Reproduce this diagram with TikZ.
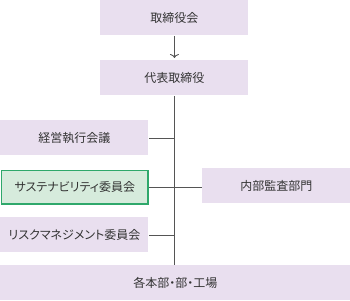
\documentclass[tikz,border=0pt]{standalone}
\usepackage{fontspec}
\newfontfamily\jp[RawFeature=+palt]{Noto Sans CJK JP}
\usepackage{tikz}
\usetikzlibrary{arrows.meta}
\definecolor{lav}{HTML}{E9DFEF}
\definecolor{sus}{HTML}{D6EBDC}
\definecolor{susedge}{HTML}{2FA86B}
\definecolor{ink}{HTML}{333333}
\definecolor{wire}{HTML}{555555}
\tikzset{org/.style={x=1pt,y=-1pt,line width=.9pt,font=\jp\fontsize{12}{14}\selectfont},
  box/.style={fill=lav,text=ink,anchor=north west,inner sep=0pt,minimum height=35pt},
  greenbox/.style={box,fill=sus,draw=susedge,line width=1.6pt}}

\begin{document}
\begin{tikzpicture}[org]
  \useasboundingbox (0,0) rectangle (350,300);
  \node[box,minimum width=148pt] (board) at (100,0){取締役会};
  \node[box,minimum width=148pt] (ceo) at (100,60){代表取締役};
  \node[box,minimum width=148pt] (exec) at (0,120){経営執行会議};
  \node[greenbox,minimum width=146.4pt,minimum height=33.4pt] (sust) at (.8,169.8){サステナビリティ委員会};
  \node[box,minimum width=148pt] (audit) at (202,168){内部監査部門};
  \node[box,minimum width=148pt] (risk) at (0,217){リスクマネジメント委員会};
  \node[box,minimum width=350pt] (div) at (0,265){各本部・部・工場};
  % connectors
  \draw[wire,-{To[length=4pt,width=9pt]},shorten >=2pt] (board) -- (ceo);
  \draw[wire] (ceo.south) -- (ceo.south |- div.north);
  \draw[wire] (exec.east) -- (exec.east -| ceo.south);
  \draw[wire] (sust.east) -- (sust.east -| audit.west);
  \draw[wire] (risk.east) -- (risk.east -| ceo.south);
\end{tikzpicture}
\end{document}
